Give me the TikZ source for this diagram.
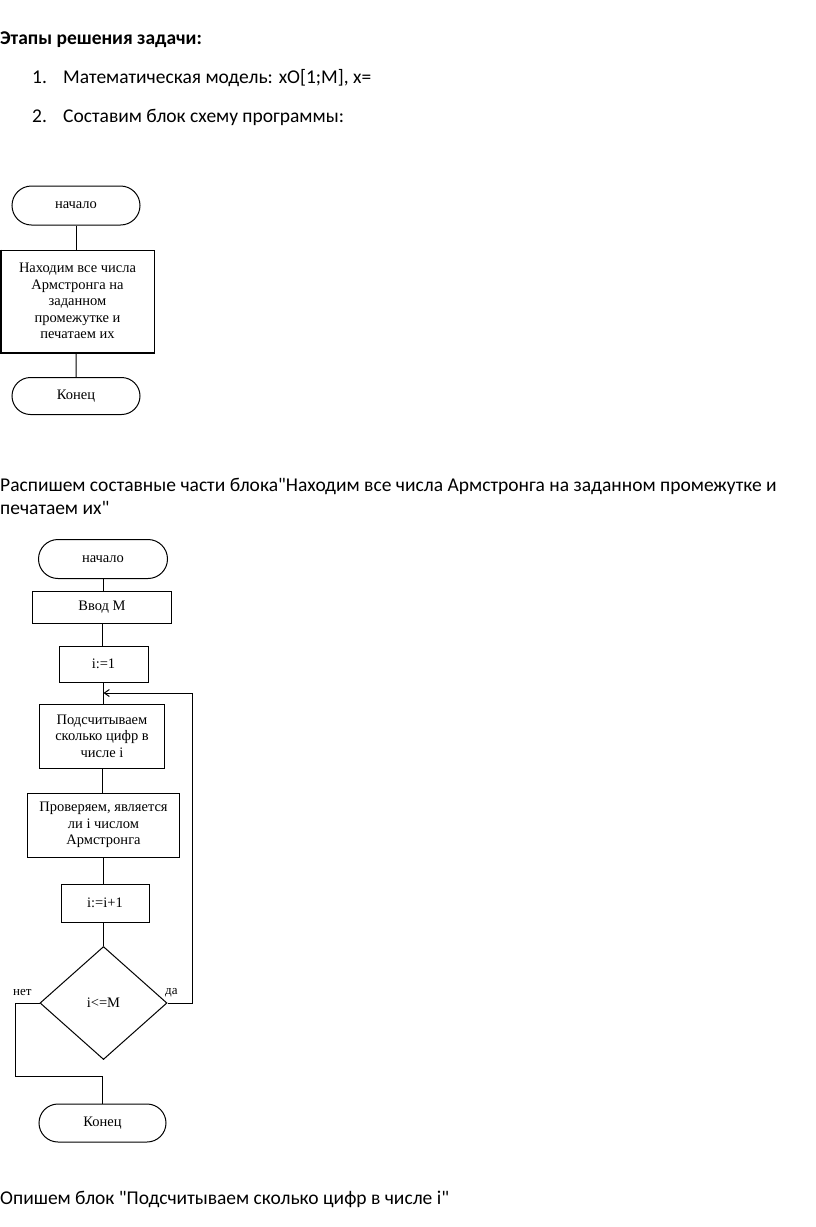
\documentclass[tikz,border=0pt]{standalone}
\usepackage{fontspec}
\setmainfont{Carlito}[Ligatures=TeXOff]
\newfontfamily\tms{Liberation Serif}
\usetikzlibrary{shapes.misc,shapes.geometric,arrows.meta}
\begin{document}
\begin{tikzpicture}[x=1pt,y=-1pt,
  txt/.style={anchor=base west, inner sep=0, font=\fontsize{19.5}{23}\selectfont},
  fc/.style={draw=black, line width=1pt, inner sep=0, align=center,
    font={\tms\fontsize{14.5}{16.5}\selectfont}},
  term/.style={fc, rounded rectangle},
  proc/.style={fc, rectangle},
  dec/.style={fc, diamond},
  lbl/.style={inner sep=0, font={\tms\fontsize{13}{14}\selectfont}},
  conn/.style={draw=black, line width=1pt}]
\useasboundingbox (0,0) rectangle (816,1227);
\fill[white] (0,0) rectangle (816,1227);

% text
\node[txt, font=\fontsize{19.5}{23}\selectfont\bfseries] (t0) at (0,44) {Этапы решения задачи:};
\node[txt] (n1) at (32,83) {1.};
\node[txt] (t1) at (63,83) {Математическая модель: xO[1;M], x=};
\node[txt] (n2) at (32,122) {2.};
\node[txt] (t2) at (63,122) {Составим блок схему программы:};
\node[txt] (t3) at (0,491) {Распишем составные части блока"Находим все числа Армстронга на заданном промежутке и};
\node[txt] (t4) at (0,514) {печатаем их"};
\node[txt] (t5) at (0,1204) {Опишем блок "Подсчитываем сколько цифр в числе i"};

% first flowchart
\node[term, minimum width=128pt, minimum height=39pt] (s1) at (76,205.5) {начало};
\node[proc, minimum width=153pt, minimum height=102pt] (b1) at (77.5,301)
  {Находим все числа\\Армстронга на\\заданном\\промежутке и\\печатаем их};
\draw[black, line width=2pt] (b1.north west) -- (b1.south west) -- (b1.south east);
\node[term, minimum width=128pt, minimum height=37pt] (e1) at (76,396) {Конец};
\draw[conn] (s1) -- (s1 |- b1.north);
\draw[conn] (s1 |- b1.south) -- (e1);

% second flowchart
\node[term, minimum width=129pt, minimum height=39pt] (s2) at (103,559) {начало};
\node[proc, minimum width=139pt, minimum height=32pt] (in) at (102,607.5) {Ввод М};
\node[proc, minimum width=89pt, minimum height=36pt] (i1) at (103.5,664) {i:=1};
\node[proc, minimum width=125pt, minimum height=64pt] (pod) at (102,736)
  {Подсчитываем\\сколько цифр в\\числе i};
\node[proc, minimum width=152pt, minimum height=64pt] (prov) at (103.5,825)
  {Проверяем, является\\ли i числом\\Армстронга};
\node[proc, minimum width=88pt, minimum height=38pt] (inc) at (105,903) {i:=i+1};
\node[dec, minimum width=127pt, minimum height=113pt] (dia) at (103.5,1003) {i<=M};
\node[term, minimum width=127pt, minimum height=38pt] (e2) at (102.5,1123) {Конец};

\coordinate (j) at (103.5,693);
\coordinate (r) at (192,693);
\coordinate (lb) at (15,1076);

\draw[conn] (s2) -- (s2 |- in.north);
\draw[conn] (in) -- (in |- i1.north);
\draw[conn] (i1) -- (i1 |- pod.north);
\draw[conn] (pod) -- (pod |- prov.north);
\draw[conn] (prov) -- (prov |- inc.north);
\draw[conn] (dia.north |- inc.south) -- (dia.north);
\draw[conn, -{Straight Barb[length=5pt,width=7pt,line width=1pt]}] (dia.east) -| (r) -- (j);
\draw[conn] (dia.west) -| (lb) -| (e2.north);

\node[lbl, anchor=south west] (no) at (13,996) {нет};
\node[lbl, anchor=south west] (yes) at (165,997) {да};
\end{tikzpicture}
\end{document}
